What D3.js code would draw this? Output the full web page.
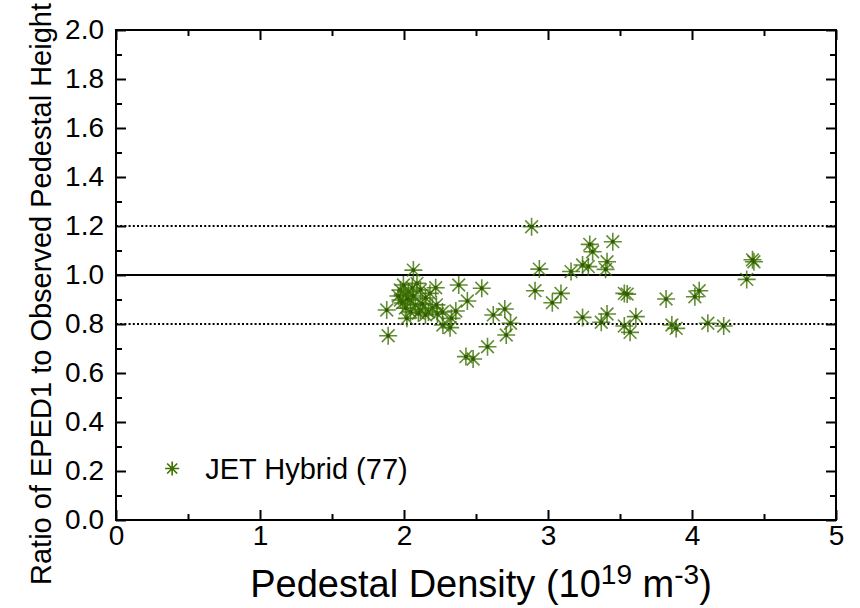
<!DOCTYPE html>
<html>
<head>
<meta charset="utf-8">
<script src="https://cdn.jsdelivr.net/npm/d3@7"></script>
<style>
  html, body { margin: 0; padding: 0; background: #fff; }
  svg { display: block; }
  .tick text { font-family: "Liberation Sans", Arial, Helvetica, sans-serif; fill: #000; }
</style>
</head>
<body>
<svg id="chart" width="860" height="608"></svg>
<script>
// JET hybrid discharges: pedestal density (1e19 m^-3) vs EPED1 / observed pedestal height
const density = [
  2.065, 2.38, 2.54, 2.44, 2.22, 2.18, 1.88, 1.89, 2.09, 2.36, 2.33, 2.32, 2.27, 2.02,
  2.62, 2.70, 2.74, 2.71, 2.58, 2.43, 2.48,
  2.886, 3.29, 3.31, 3.45, 2.94, 3.16, 3.24, 3.28, 3.41, 3.40, 2.91, 3.03, 3.09, 3.24,
  3.37, 3.41, 3.61, 3.53, 3.55, 3.53, 3.57, 3.82, 3.86, 3.89,
  4.43, 4.42, 4.38, 4.05, 4.02, 4.11, 4.22,
  1.975, 2.01, 2.045, 1.975, 1.996, 2.03, 2.058, 2.114, 2.149, 2.079, 2.114, 2.17, 2.197,
  2.232, 2.267, 2.149, 2.10, 2.045, 2.01, 1.961, 1.989, 2.024, 2.065, 2.128, 2.225
];
const ratio = [
  1.02, 0.959, 0.946, 0.894, 0.948, 0.925, 0.857, 0.752, 0.966, 0.853, 0.823, 0.785, 0.796, 0.823,
  0.837, 0.861, 0.803, 0.755, 0.707, 0.667, 0.657,
  1.197, 1.125, 1.095, 1.136, 1.024, 1.014, 1.041, 1.034, 1.054, 1.023, 0.936, 0.887, 0.925, 0.827,
  0.807, 0.841, 0.830, 0.925, 0.922, 0.792, 0.766, 0.902, 0.796, 0.782,
  1.054, 1.062, 0.982, 0.936, 0.911, 0.803, 0.792,
  0.939, 0.918, 0.898, 0.898, 0.959, 0.931, 0.947, 0.939, 0.906, 0.878, 0.857, 0.849, 0.865,
  0.841, 0.849, 0.837, 0.845, 0.849, 0.865, 0.914, 0.886, 0.902, 0.914, 0.882, 0.878
];
const xTicks = [0, 1, 2, 3, 4, 5];
const yTicks = [0.0, 0.2, 0.4, 0.6, 0.8, 1.0, 1.2, 1.4, 1.6, 1.8, 2.0];
const refSolid = [1.0];
const refDotted = [0.8, 1.2];
const seriesName = "JET Hybrid (77)";

const W = 860, H = 608;
const m = { left: 116, right: 24, top: 30, bottom: 88 };
const svg = d3.select("#chart");

const x = d3.scaleLinear().domain([0, 5]).range([m.left, W - m.right]);
const y = d3.scaleLinear().domain([0, 2]).range([H - m.bottom, m.top]);

const FONT = '"Liberation Sans", Arial, Helvetica, sans-serif';
const green = "#3c7000";

// reference lines
svg.selectAll("line.solid").data(refSolid).enter().append("line")
  .attr("x1", x(0)).attr("x2", x(5)).attr("y1", d => y(d)).attr("y2", d => y(d))
  .attr("stroke", "#000").attr("stroke-width", 2);
svg.selectAll("line.dot").data(refDotted).enter().append("line")
  .attr("x1", x(0)).attr("x2", x(5)).attr("y1", d => y(d)).attr("y2", d => y(d))
  .attr("stroke", "#000").attr("stroke-width", 2).attr("stroke-dasharray", "2,2.2");

// axes: major + minor ticks, inward on all four sides
const xMinor = d3.range(0.5, 5, 1);
const yMinor = d3.range(0.1, 2, 0.2);
function styleAxis(g) {
  g.select(".domain").remove();
  g.selectAll(".tick line").attr("stroke", "#000").attr("stroke-width", 2);
}
svg.append("g").attr("transform", `translate(0,${y(0)})`)
  .call(d3.axisBottom(x).tickValues(xTicks).tickSize(-10).tickPadding(5).tickFormat(d3.format("d")))
  .call(styleAxis).selectAll("text").style("font-size", "28px").style("font-family", FONT);
svg.append("g").attr("transform", `translate(0,${y(0)})`)
  .call(d3.axisBottom(x).tickValues(xMinor).tickSize(-6).tickFormat(""))
  .call(styleAxis);
svg.append("g").attr("transform", `translate(0,${y(2)})`)
  .call(d3.axisTop(x).tickValues(xTicks).tickSize(-10).tickFormat(""))
  .call(styleAxis);
svg.append("g").attr("transform", `translate(0,${y(2)})`)
  .call(d3.axisTop(x).tickValues(xMinor).tickSize(-6).tickFormat(""))
  .call(styleAxis);
svg.append("g").attr("transform", `translate(${x(0)},0)`)
  .call(d3.axisLeft(y).tickValues(yTicks).tickSize(-10).tickPadding(12).tickFormat(d3.format(".1f")))
  .call(styleAxis).selectAll("text").style("font-size", "28px").style("font-family", FONT);
svg.append("g").attr("transform", `translate(${x(0)},0)`)
  .call(d3.axisLeft(y).tickValues(yMinor).tickSize(-6).tickFormat(""))
  .call(styleAxis);
svg.append("g").attr("transform", `translate(${x(5)},0)`)
  .call(d3.axisRight(y).tickValues(yTicks).tickSize(-10).tickFormat(""))
  .call(styleAxis);
svg.append("g").attr("transform", `translate(${x(5)},0)`)
  .call(d3.axisRight(y).tickValues(yMinor).tickSize(-6).tickFormat(""))
  .call(styleAxis);

// frame
svg.append("rect")
  .attr("x", x(0)).attr("y", y(2)).attr("width", x(5) - x(0)).attr("height", y(0) - y(2))
  .attr("fill", "none").attr("stroke", "#000").attr("stroke-width", 2);

// asterisk marker
const r = 9, rd = r * Math.SQRT1_2;
const starPath = `M${-r},0L${r},0M0,${-r}L0,${r}M${-rd},${-rd}L${rd},${rd}M${-rd},${rd}L${rd},${-rd}`;
function drawStar(sel) {
  sel.append("path").attr("d", starPath)
    .attr("stroke", green).attr("stroke-width", 1.6).attr("fill", "none").attr("stroke-opacity", 0.8);
  sel.append("rect").attr("x", -1.7).attr("y", -1.7).attr("width", 3.4).attr("height", 3.4)
    .attr("fill", "#2f5a00");
}
const pts = density.map((d, i) => ({ x: d, y: ratio[i] }));
svg.append("g").selectAll("g").data(pts).enter().append("g")
  .attr("transform", d => `translate(${x(d.x)},${y(d.y)})`)
  .call(drawStar);

// legend
const leg = svg.append("g").attr("transform", `translate(${x(0.39)},${y(0.21)})`);
leg.append("path").attr("d", `M-7,0L7,0M0,-7L0,7M-5,-5L5,5M-5,5L5,-5`)
  .attr("stroke", green).attr("stroke-width", 1.6).attr("fill", "none");
leg.append("text").attr("x", 33).attr("y", 10).text(seriesName)
  .attr("font-family", FONT).attr("font-size", 29).attr("fill", "#000");

// axis titles
const xt = svg.append("text").attr("x", 481).attr("y", 597).attr("text-anchor", "middle")
  .attr("font-family", FONT).attr("font-size", 38).attr("fill", "#000");
xt.append("tspan").text("Pedestal Density (10");
xt.append("tspan").attr("dy", -13).attr("font-size", 28).text("19");
xt.append("tspan").attr("dy", 13).text(" m");
xt.append("tspan").attr("dy", -13).attr("font-size", 28).text("-3");
xt.append("tspan").attr("dy", 13).text(")");

svg.append("text").attr("transform", "translate(51,294) rotate(-90)").attr("text-anchor", "middle")
  .attr("font-family", FONT).attr("font-size", 29).attr("fill", "#000")
  .text("Ratio of EPED1 to Observed Pedestal Height");
</script>
</body>
</html>
